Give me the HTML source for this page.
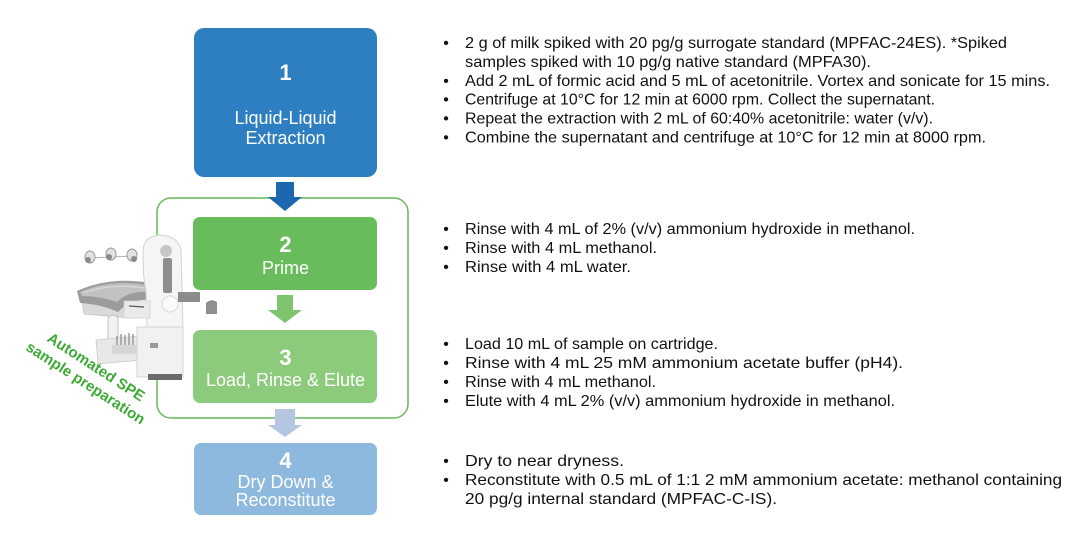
<!DOCTYPE html>
<html>
<head>
<meta charset="utf-8">
<style>
  html,body{margin:0;padding:0;background:#fff;}
  body{width:1092px;height:544px;overflow:hidden;}
  svg{display:block;}
  .bx{font-family:"Liberation Sans",Arial,sans-serif;fill:#fff;text-anchor:middle;}
  .num{font-weight:bold;font-size:22px;}
  .lbl{font-size:18px;}
  .rt{font-family:"Liberation Sans",Arial,sans-serif;font-size:16px;fill:#111;}
  .bu{font-family:"Liberation Sans",Arial,sans-serif;font-size:16px;fill:#111;text-anchor:middle;}
  .gt{font-family:"Liberation Sans",Arial,sans-serif;font-size:15px;font-weight:bold;fill:#3DAA35;text-anchor:middle;}
</style>
</head>
<body>
<svg width="1092" height="544" viewBox="0 0 1092 544" xmlns="http://www.w3.org/2000/svg">
  <!-- green container -->
  <rect x="157" y="198" width="251" height="220" rx="14" ry="14" fill="none" stroke="#67B85A" stroke-width="1.5"/>

  <!-- Box 1 -->
  <rect x="194" y="28" width="183" height="149" rx="10" fill="#2E7FC2"/>
  <text class="bx num" x="285.5" y="80">1</text>
  <text class="bx lbl" x="285.5" y="124">Liquid-Liquid</text>
  <text class="bx lbl" x="285.5" y="144">Extraction</text>

  <!-- Arrow 1 -->
  <path d="M276,182 L294,182 L294,197 L302,197 L285,211 L268,197 L276,197 Z" fill="#1C67AD"/>

  <!-- Box 2 -->
  <rect x="193" y="217" width="184" height="73" rx="7" fill="#69BC5C"/>
  <text class="bx num" x="285.5" y="252">2</text>
  <text class="bx lbl" x="285.5" y="274">Prime</text>

  <!-- Arrow 2 -->
  <path d="M277,295 L293,295 L293,310 L302,310 L285,323 L268,310 L277,310 Z" fill="#7DC46C"/>

  <!-- Box 3 -->
  <rect x="193" y="330" width="184" height="73" rx="7" fill="#8CCB7C"/>
  <text class="bx num" x="285.5" y="365">3</text>
  <text class="bx lbl" x="285.5" y="386">Load, Rinse &amp; Elute</text>

  <!-- Arrow 3 -->
  <path d="M275,409 L295,409 L295,425 L302,425 L285,437 L268,425 L275,425 Z" fill="#B5C7E0"/>

  <!-- Box 4 -->
  <rect x="194" y="443" width="183" height="72" rx="7" fill="#8DB9DF"/>
  <text class="bx num" x="285.5" y="468">4</text>
  <text class="bx lbl" x="285.5" y="488">Dry Down &amp;</text>
  <text class="bx lbl" x="285.5" y="506">Reconstitute</text>

  <!-- Robot approximation -->
  <g>
    <line x1="90" y1="258" x2="134" y2="256" stroke="#b0b0b0" stroke-width="1"/>
    <ellipse cx="90" cy="257" rx="5" ry="6" fill="#e2e2e2" stroke="#9a9a9a" stroke-width="1"/>
    <ellipse cx="88" cy="260" rx="3" ry="3" fill="#8a8a8a"/>
    <ellipse cx="111" cy="254" rx="5" ry="6" fill="#e2e2e2" stroke="#9a9a9a" stroke-width="1"/>
    <ellipse cx="109" cy="257" rx="3" ry="3" fill="#8a8a8a"/>
    <ellipse cx="132" cy="255" rx="5" ry="6" fill="#e2e2e2" stroke="#9a9a9a" stroke-width="1"/>
    <ellipse cx="134" cy="259" rx="3" ry="3" fill="#8a8a8a"/>

    <path d="M82,300 L128,303 L130,318 L84,314 Z" fill="#dadada" stroke="#c4c4c4" stroke-width="0.8"/>
    <path d="M77,291 Q110,276 150,283 L148,300 Q130,299 118,312 Q100,304 80,303 Z" fill="#9c9c9c"/>
    <path d="M80,292 Q110,279 147,285 L146,292 Q128,291 117,302 Q100,296 82,296 Z" fill="#c2c2c2"/>
    <path d="M84,293 Q110,283 144,288" fill="none" stroke="#dcdcdc" stroke-width="1.2"/>

    <path d="M143,250 Q144,236 160,235 Q178,236 181,250 L183,330 L147,330 L146,290 Q143,280 143,250 Z" fill="#f5f5f5" stroke="#d2d2d2" stroke-width="1"/>
    <circle cx="166" cy="251" r="6" fill="#c6c6c6"/>
    <rect x="163" y="258" width="9" height="35" rx="2" fill="#8e8e8e"/>
    <circle cx="170" cy="304" r="8" fill="#fbfbfb" stroke="#dadada" stroke-width="1"/>

    <rect x="124" y="301" width="26" height="17" fill="#eaeaea" stroke="#d0d0d0" stroke-width="0.8"/>
    <line x1="129" y1="306" x2="144" y2="307" stroke="#555" stroke-width="1.2"/>

    <rect x="178" y="292" width="22" height="10" fill="#8c8c8c"/>
    <path d="M206,303 Q211,298 217,302 L217,314 L206,314 Z" fill="#8f8f8f"/>

    <path d="M108,318 Q113,312 118,318 L118,345 L108,345 Z" fill="#f2f2f2" stroke="#b8b8b8" stroke-width="0.8"/>
    <path d="M96,340 L140,336 L141,360 L98,364 Z" fill="#e8e8e8" stroke="#c8c8c8" stroke-width="0.8"/>
    <g stroke="#9a9a9a" stroke-width="1.5">
      <line x1="117" y1="336" x2="117" y2="350"/>
      <line x1="121" y1="334" x2="121" y2="349"/>
      <line x1="125" y1="335" x2="125" y2="349"/>
      <line x1="129" y1="333" x2="129" y2="348"/>
      <line x1="133" y1="334" x2="133" y2="348"/>
    </g>
    <rect x="112" y="345" width="26" height="9" fill="#d6d6d6"/>

    <rect x="137" y="327" width="46" height="50" fill="#f1f1f1" stroke="#d4d4d4" stroke-width="1"/>
    <rect x="148" y="374" width="34" height="6" fill="#6a6a6a"/>
    <rect x="150" y="343" width="8" height="5" fill="#9a9a9a"/>
  </g>

  <!-- Rotated label -->
  <g transform="translate(96,367) rotate(33)">
    <text class="gt" x="0" y="5">Automated SPE</text>
    <text class="gt" x="0" y="24">sample preparation</text>
  </g>

  <!-- Right text: block 1 -->
  <text class="bu" x="446" y="48">•</text>
  <text class="rt" x="465" y="48" textLength="542" lengthAdjust="spacingAndGlyphs">2 g of milk spiked with 20 pg/g surrogate standard (MPFAC-24ES). *Spiked</text>
  <text class="rt" x="465" y="66.9" textLength="406" lengthAdjust="spacingAndGlyphs">samples spiked with 10 pg/g native standard (MPFA30).</text>
  <text class="bu" x="446" y="85.8">•</text>
  <text class="rt" x="465" y="85.8" textLength="585" lengthAdjust="spacingAndGlyphs">Add 2 mL of formic acid and 5 mL of acetonitrile. Vortex and sonicate for 15 mins.</text>
  <text class="bu" x="446" y="104.7">•</text>
  <text class="rt" x="465" y="104.7" textLength="470" lengthAdjust="spacingAndGlyphs">Centrifuge at 10°C for 12 min at 6000 rpm. Collect the supernatant.</text>
  <text class="bu" x="446" y="123.6">•</text>
  <text class="rt" x="465" y="123.6" textLength="468" lengthAdjust="spacingAndGlyphs">Repeat the extraction with 2 mL of 60:40% acetonitrile: water (v/v).</text>
  <text class="bu" x="446" y="142.5">•</text>
  <text class="rt" x="465" y="142.5" textLength="521" lengthAdjust="spacingAndGlyphs">Combine the supernatant and centrifuge at 10°C for 12 min at 8000 rpm.</text>

  <!-- block 2 -->
  <text class="bu" x="446" y="234">•</text>
  <text class="rt" x="465" y="234" textLength="450" lengthAdjust="spacingAndGlyphs">Rinse with 4 mL of 2% (v/v) ammonium hydroxide in methanol.</text>
  <text class="bu" x="446" y="253">•</text>
  <text class="rt" x="465" y="253" textLength="192" lengthAdjust="spacingAndGlyphs">Rinse with 4 mL methanol.</text>
  <text class="bu" x="446" y="272">•</text>
  <text class="rt" x="465" y="272" textLength="166" lengthAdjust="spacingAndGlyphs">Rinse with 4 mL water.</text>

  <!-- block 3 -->
  <text class="bu" x="446" y="349">•</text>
  <text class="rt" x="465" y="349" textLength="253" lengthAdjust="spacingAndGlyphs">Load 10 mL of sample on cartridge.</text>
  <text class="bu" x="446" y="368">•</text>
  <text class="rt" x="465" y="368" textLength="438" lengthAdjust="spacingAndGlyphs">Rinse with 4 mL 25 mM ammonium acetate buffer (pH4).</text>
  <text class="bu" x="446" y="387">•</text>
  <text class="rt" x="465" y="387" textLength="191" lengthAdjust="spacingAndGlyphs">Rinse with 4 mL methanol.</text>
  <text class="bu" x="446" y="406">•</text>
  <text class="rt" x="465" y="406" textLength="430" lengthAdjust="spacingAndGlyphs">Elute with 4 mL 2% (v/v) ammonium hydroxide in methanol.</text>

  <!-- block 4 -->
  <text class="bu" x="446" y="466">•</text>
  <text class="rt" x="465" y="466" textLength="159" lengthAdjust="spacingAndGlyphs">Dry to near dryness.</text>
  <text class="bu" x="446" y="485">•</text>
  <text class="rt" x="465" y="485" textLength="597" lengthAdjust="spacingAndGlyphs">Reconstitute with 0.5 mL of 1:1 2 mM ammonium acetate: methanol containing</text>
  <text class="rt" x="465" y="504" textLength="312" lengthAdjust="spacingAndGlyphs">20 pg/g internal standard (MPFAC-C-IS).</text>
</svg>
</body>
</html>
